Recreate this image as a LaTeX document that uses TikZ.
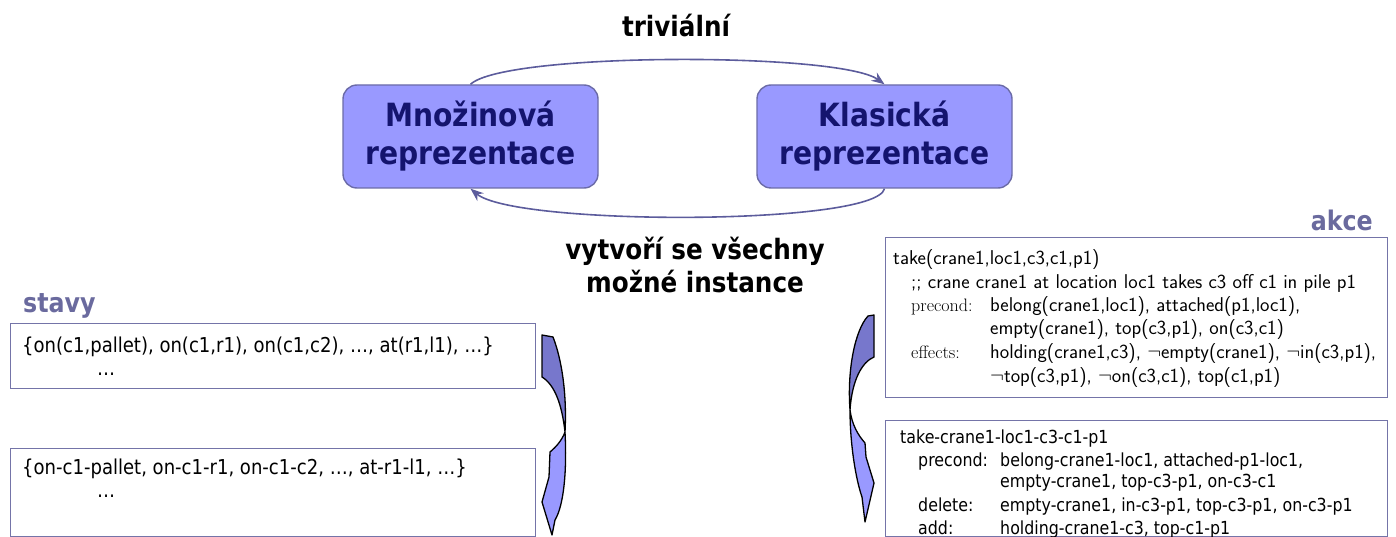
\documentclass[tikz,border=0pt]{standalone}
\usepackage{fontspec}
\newfontfamily\tah[FakeStretch=0.88]{DejaVu Sans}
\usetikzlibrary{arrows.meta}
\definecolor{boxfill}{HTML}{9999FF}
\definecolor{boxdraw}{HTML}{6B6BA8}
\definecolor{navy}{HTML}{14146E}
\definecolor{lbl}{HTML}{6A6A9E}
\definecolor{arccol}{HTML}{5C5C9C}
\definecolor{darkband}{HTML}{7777CC}
\definecolor{framecol}{HTML}{7474A8}
\tikzset{
  repbox/.style={draw=boxdraw, line width=1.4pt, fill=boxfill, rounded corners=14pt,
    minimum width=255pt, minimum height=103pt, align=center, text=navy,
    font=\tah\bfseries\fontsize{32}{38}\selectfont, inner sep=0pt},
  arcline/.style={draw=arccol, line width=1.6pt, -{Stealth[length=13pt,width=10pt]}},
  bigtext/.style={font=\tah\bfseries\fontsize{28}{33}\selectfont, align=center, inner sep=0pt},
  label/.style={font=\tah\bfseries\fontsize{27}{30}\selectfont, text=lbl, inner sep=0pt},
  framebox/.style={draw=framecol, line width=1.2pt, inner sep=0pt},
  tline/.style={font=\tah\fontsize{20.5}{24}\selectfont, anchor=base west, inner sep=0pt},
  kline/.style={font=\tah\fontsize{18}{22}\selectfont, anchor=base west, inner sep=0pt},
  sline/.style={font=\sffamily\fontsize{20}{24}\selectfont, anchor=base west, inner sep=0pt},
  rline/.style={font=\rmfamily\fontsize{18}{22}\selectfont, anchor=base west, inner sep=0pt},
  bandedge/.style={draw=black, line width=1.3pt, line join=round},
}
\begin{document}
\begin{tikzpicture}[x=1pt,y=-1pt]
\useasboundingbox (0,0) rectangle (1396,537);

% top boxes
\node[repbox] (L) at (470.5,136.5) {Množinová\\reprezentace};
\node[repbox] (R) at (884.5,136.5) {Klasická\\reprezentace};

\node[bigtext] (triv) at (676,26) {triviální};
\node[bigtext] (vyt) at (695,265) {vytvoří se všechny\\možné instance};

\draw[arcline] (L.north) .. controls (505,52) and (840,52) .. (R.north);
\draw[arcline] (R.south) .. controls (875,226) and (515,226) .. (L.south);

% labels
\node[label, anchor=base west] (stavy) at (23,312) {stavy};
\node[label, anchor=base east] (akce) at (1373,230) {akce};

% state boxes
\node[framebox, anchor=north west, minimum width=525pt, minimum height=65pt] (s1) at (10,323) {};
\node[framebox, anchor=north west, minimum width=525pt, minimum height=88pt] (s2) at (10,448) {};
\node[tline] (s1a) at (22,352) {\{on(c1,pallet), on(c1,r1), on(c1,c2), …, at(r1,l1), …\}};
\node[tline] (s1b) at (97,375) {…};
\node[tline] (s2a) at (22,474) {\{on-c1-pallet, on-c1-r1, on-c1-c2, …, at-r1-l1, …\}};
\node[tline] (s2b) at (97,497) {…};

% action boxes
\node[framebox, anchor=north west, minimum width=502pt, minimum height=160pt] (a1) at (885,237) {};
\node[framebox, anchor=north west, minimum width=502pt, minimum height=116pt] (a2) at (885,420) {};

\node[sline] (a1a) at (893,264) {take(crane1,loc1,c3,c1,p1)};
\node[sline] (a1b) at (911,288) {;; crane crane1 at location loc1 takes c3 off c1 in pile p1};
\node[rline] (a1c) at (911,311) {precond:};
\node[sline] (a1d) at (990,311) {belong(crane1,loc1), attached(p1,loc1),};
\node[sline] (a1e) at (990,334) {empty(crane1), top(c3,p1), on(c3,c1)};
\node[rline] (a1f) at (911,358) {effects:};
\node[sline] (a1g) at (990,358) {holding(crane1,c3), $\neg$empty(crane1), $\neg$in(c3,p1),};
\node[sline] (a1h) at (990,382) {$\neg$top(c3,p1), $\neg$on(c3,c1), top(c1,p1)};

\node[kline] (a2a) at (900,443) {take-crane1-loc1-c3-c1-p1};
\node[kline] (a2b) at (918,466) {precond:};
\node[kline] (a2c) at (1000,466) {belong-crane1-loc1, attached-p1-loc1,};
\node[kline] (a2d) at (1000,487) {empty-crane1, top-c3-p1, on-c3-c1};
\node[kline] (a2e) at (918,511) {delete:};
\node[kline] (a2f) at (1000,511) {empty-crane1, in-c3-p1, top-c3-p1, on-c3-p1};
\node[kline] (a2g) at (918,534) {add:};
\node[kline] (a2h) at (1000,534) {holding-crane1-c3, top-c1-p1};

% left curved block arrow
\fill[boxfill] (565,432) .. controls (567,470) and (564,505) .. (555,520)
  -- (552,535) -- (542,502) -- (549,477) -- (550,452) .. controls (557,446) and (562,440) .. (565,432) -- cycle;
\draw[bandedge] (565,432) .. controls (567,470) and (564,505) .. (555,520)
  -- (552,535) -- (542,502) -- (549,477) -- (550,452) .. controls (557,446) and (562,440) .. (565,432);
\filldraw[bandedge, fill=darkband] (542,335) -- (553,337) .. controls (562,360) and (567,395) .. (565,432)
  .. controls (562,405) and (555,385) .. (542,377) -- cycle;

% right curved block arrow
\fill[boxfill] (850,410) .. controls (850,445) and (856,480) .. (862,497)
  -- (865,522) -- (874,483) -- (866,457) -- (865,443) .. controls (858,435) and (852,425) .. (850,410) -- cycle;
\draw[bandedge] (850,410) .. controls (850,445) and (856,480) .. (862,497)
  -- (865,522) -- (874,483) -- (866,457) -- (865,443) .. controls (858,435) and (852,425) .. (850,410);
\filldraw[bandedge, fill=darkband] (874,315) -- (874,357) .. controls (862,362) and (852,380) .. (850,410)
  .. controls (847,370) and (855,330) .. (868,316) -- cycle;
\end{tikzpicture}
\end{document}
